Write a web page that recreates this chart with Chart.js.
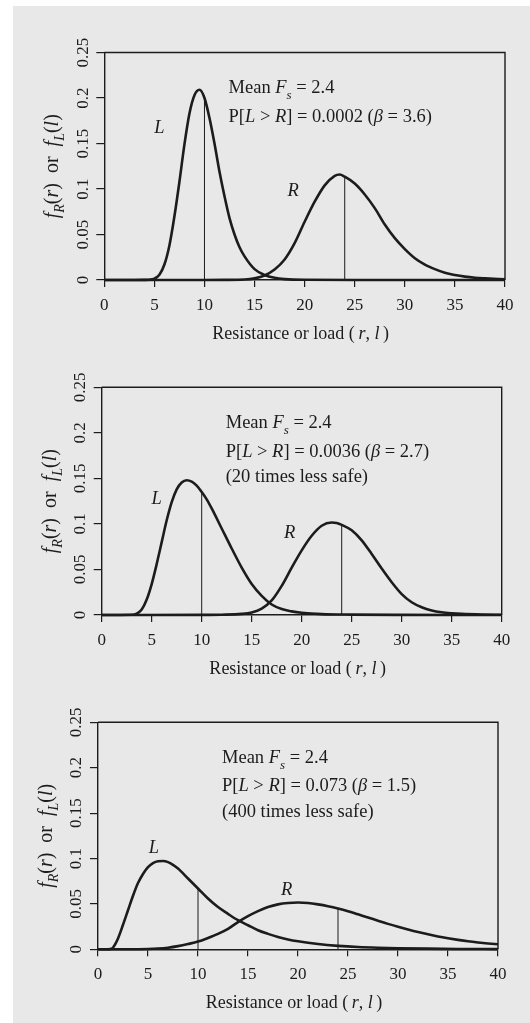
<!DOCTYPE html>
<html><head><meta charset="utf-8">
<script src="https://cdn.jsdelivr.net/npm/chart.js@4.4.1/dist/chart.umd.min.js"></script>
<style>
html,body{margin:0;padding:0;background:#fff;}
#page{position:relative;width:530px;height:1023px;background:#fff;overflow:hidden;}
#panel{position:absolute;left:13px;top:6px;right:0;bottom:0;background:#e8e8e8;}
canvas{position:absolute;left:0;}
</style></head><body>
<div id="page"><div id="panel"></div>
<canvas id="c1" width="530" height="348" style="top:0px"></canvas>
<canvas id="c2" width="530" height="345" style="top:340px"></canvas>
<canvas id="c3" width="530" height="343" style="top:680px"></canvas>
</div>
<script>
// ---------- data ----------
const xTickValues = [0, 5, 10, 15, 20, 25, 30, 35, 40];
const xTickLabels = ['0', '5', '10', '15', '20', '25', '30', '35', '40'];
const yTickValues = [0, 0.05, 0.1, 0.15, 0.2, 0.25];
const yTickLabels = ['0', '0.05', '0.1', '0.15', '0.2', '0.25'];

const meanLoad = 10;
const meanResistance = 24;
const meanFs = '2.4';
const probFailure = ['0.0002', '0.0036', '0.073'];
const betaValues = ['3.6', '2.7', '1.5'];
const safetyNotes = ['', '(20 times less safe)', '(400 times less safe)'];

const load1X = [0,3,4,4.5,5,5.5,6,6.5,7,7.5,8,8.5,9,9.5,10,10.5,11,11.5,12,12.5,13,13.5,14,15,16,17,18,20,25,40];
const load1Y = [0,0,0.0001,0.0003,0.0015,0.0058,0.017,0.038,0.070,0.108,0.149,0.183,0.203,0.209,0.200,0.178,0.150,0.119,0.092,0.068,0.050,0.036,0.026,0.012,0.0055,0.0024,0.001,0.0002,0,0];
const res1X = [0,10,12,14,15,16,17,18,19,20,21,22,23,23.5,24,25,26,27,28,29,30,31,32,33,34,35,36,37,38,40];
const res1Y = [0,0,0.0001,0.0005,0.0018,0.005,0.0115,0.0225,0.0405,0.064,0.086,0.104,0.1145,0.116,0.1135,0.106,0.094,0.079,0.061,0.046,0.034,0.024,0.017,0.012,0.008,0.0055,0.0037,0.0025,0.0018,0.0008];

const load2X = [0,3,3.5,4,4.5,5,5.5,6,6.5,7,7.5,8,8.5,9,9.5,10,10.5,11,12,13,14,15,16,17,18,19,20,22,25,30,40];
const load2Y = [0,0.0003,0.0015,0.006,0.017,0.034,0.056,0.080,0.104,0.124,0.138,0.1455,0.148,0.1465,0.142,0.135,0.127,0.117,0.095,0.073,0.052,0.034,0.021,0.0115,0.0065,0.004,0.0025,0.001,0.0004,0.0001,0];
const res2X = [0,10,12,14,15,16,17,18,19,20,21,22,23,23.5,24,25,26,27,28,29,30,31,32,33,34,35,36,38,40];
const res2Y = [0,0.0001,0.0003,0.0012,0.0028,0.007,0.016,0.032,0.052,0.071,0.087,0.098,0.1015,0.101,0.099,0.093,0.082,0.067,0.051,0.036,0.023,0.014,0.0085,0.005,0.003,0.0019,0.0012,0.0005,0.0002];

const load3X = [0,1,1.2,1.5,2,2.5,3,3.5,4,4.5,5,5.5,6,6.5,7,7.5,8,9,10,11,12,13,14,15,16,17,18,19,20,22,24,26,28,30,33,36,40];
const load3Y = [0,0,0.0002,0.002,0.012,0.027,0.043,0.059,0.073,0.083,0.0905,0.095,0.097,0.0972,0.096,0.093,0.089,0.078,0.067,0.056,0.0465,0.039,0.032,0.0265,0.021,0.017,0.0135,0.0108,0.0088,0.0058,0.0038,0.0025,0.0017,0.0012,0.0007,0.0004,0.0002];
const res3X = [0,3,5,6,7,8,9,10,11,12,13,14,15,16,17,18,19,20,21,22,23,24,25,26,27,28,29,30,31,32,33,34,35,36,37,38,39,40];
const res3Y = [0,0,0.0003,0.0008,0.0018,0.0035,0.0058,0.0085,0.0125,0.017,0.0225,0.030,0.0365,0.042,0.0465,0.0495,0.051,0.0515,0.051,0.0495,0.0475,0.045,0.042,0.0385,0.035,0.0315,0.028,0.0248,0.0218,0.019,0.0165,0.0142,0.0122,0.0104,0.0088,0.0075,0.0064,0.0055];

// ---------- drawing helpers ----------
const FONT = '"Liberation Serif", "Times New Roman", serif';
const INK = '#1c1c1c';

function drawRich(ctx, segs, x, y, size, align) {
  let w = 0;
  const parts = segs.map(s => {
    const fs = s.sub ? size * 0.7 : size;
    const font = (s.it ? 'italic ' : '') + fs + 'px ' + FONT;
    ctx.font = font;
    const mw = ctx.measureText(s.t).width;
    w += mw;
    return { t: s.t, font, mw, dy: s.sub ? size * 0.3 : 0 };
  });
  let cx = align === 'center' ? x - w / 2 : x;
  ctx.textAlign = 'left';
  ctx.textBaseline = 'alphabetic';
  for (const p of parts) {
    ctx.font = p.font;
    ctx.fillText(p.t, cx, y + p.dy);
    cx += p.mw;
  }
}

const yTitleSegs = [
  {t:'f', it:1}, {t:'R', it:1, sub:1}, {t:'('}, {t:'r', it:1}, {t:')  or  '},
  {t:'f', it:1}, {t:'L', it:1, sub:1}, {t:'('}, {t:'l', it:1}, {t:')'}
];
const xTitleSegs = [
  {t:'Resistance or load (\u2009'}, {t:'r', it:1}, {t:', '}, {t:'l', it:1}, {t:'\u2009)'}
];
function meanSegs() {
  return [{t:'Mean '}, {t:'F', it:1}, {t:'s', it:1, sub:1}, {t:' = ' + meanFs}];
}
function probSegs(i) {
  return [{t:'P['}, {t:'L', it:1}, {t:' > '}, {t:'R', it:1}, {t:'] = ' + probFailure[i] + ' ('},
          {t:'\u03B2', it:1}, {t:' = ' + betaValues[i] + ')'}];
}

const decor = {
  id: 'decor',
  afterDatasetsDraw(chart, args, opts) {
    const { ctx, chartArea: a, scales: { x, y } } = chart;
    ctx.save();
    ctx.strokeStyle = INK;
    ctx.lineWidth = 1.4;
    ctx.beginPath();
    ctx.moveTo(a.left, a.top);
    ctx.lineTo(a.right, a.top);
    ctx.lineTo(a.right, a.bottom);
    ctx.stroke();
    ctx.fillStyle = INK;
    // rotated y tick labels
    ctx.font = '17px ' + FONT;
    yTickValues.forEach((v, i) => {
      const py = y.getPixelForValue(v);
      ctx.save();
      ctx.translate(a.left - 21, py);
      ctx.rotate(-Math.PI / 2);
      ctx.textAlign = 'center';
      ctx.textBaseline = 'middle';
      ctx.fillText(yTickLabels[i], 0, 0);
      ctx.restore();
    });
    // y title
    ctx.save();
    ctx.translate(a.left - 52, (a.top + a.bottom) / 2);
    ctx.rotate(-Math.PI / 2);
    drawRich(ctx, yTitleSegs, 0, 6, 20, 'center');
    ctx.restore();
    // x title
    drawRich(ctx, xTitleSegs, (a.left + a.right) / 2 - 4, a.bottom + 58.5, 18, 'center');
    // annotation lines
    opts.lines.forEach(l => {
      drawRich(ctx, l.segs, x.getPixelForValue(l.x), y.getPixelForValue(l.y), 18.5, 'left');
    });
    opts.labels.forEach(l => {
      drawRich(ctx, [{t:l.t, it:1}], x.getPixelForValue(l.x), y.getPixelForValue(l.y), 18.5, 'center');
    });
    ctx.restore();
  }
};

function pts(xs, ys) { return xs.map((v, i) => ({ x: v, y: ys[i] })); }
function valueAt(xs, ys, xv) { return ys[xs.indexOf(xv)]; }

function build(id, pad, lx, ly, rx, ry, lines, labels) {
  const curve = { borderColor: INK, borderWidth: 2.6, pointRadius: 0, fill: false,
                  cubicInterpolationMode: 'monotone', clip: false };
  const thin = { borderColor: INK, borderWidth: 1, pointRadius: 0, fill: false, tension: 0, clip: false };
  new Chart(document.getElementById(id), {
    type: 'line',
    data: {
      datasets: [
        Object.assign({ label: 'L', data: pts(lx, ly) }, curve),
        Object.assign({ label: 'R', data: pts(rx, ry) }, curve),
        Object.assign({ label: 'mean L', data: [{x: meanLoad, y: 0}, {x: meanLoad, y: valueAt(lx, ly, meanLoad)}] }, thin),
        Object.assign({ label: 'mean R', data: [{x: meanResistance, y: 0}, {x: meanResistance, y: valueAt(rx, ry, meanResistance)}] }, thin)
      ]
    },
    options: {
      responsive: false,
      animation: false,
      events: [],
      layout: { padding: pad },
      plugins: { legend: { display: false }, tooltip: { enabled: false }, decor: { lines, labels } },
      scales: {
        x: {
          type: 'linear', min: 0, max: 40,
          afterBuildTicks: s => { s.ticks = xTickValues.map(v => ({ value: v })); },
          ticks: { callback: (v) => xTickLabels[xTickValues.indexOf(v)], font: { family: FONT, size: 17 },
                   color: INK, padding: 8, maxRotation: 0, autoSkip: false },
          grid: { drawOnChartArea: false, drawTicks: true, tickLength: 7, color: INK, lineWidth: 1.2 },
          border: { display: true, color: INK, width: 1.4 },
          afterFit: s => { s.height = 50; s.paddingLeft = 0; s.paddingRight = 0; }
        },
        y: {
          type: 'linear', min: 0, max: 0.25,
          afterBuildTicks: s => { s.ticks = yTickValues.map(v => ({ value: v })); },
          ticks: { display: false },
          grid: { drawOnChartArea: false, drawTicks: true, tickLength: 8, color: INK, lineWidth: 1.2 },
          border: { display: true, color: INK, width: 1.4 },
          afterFit: s => { s.width = 60; s.paddingTop = 0; s.paddingBottom = 0; }
        }
      }
    },
    plugins: [decor]
  });
}

build('c1', { left: 44.3, right: 25, top: 52.5, bottom: 18 }, load1X, load1Y, res1X, res1Y,
  [ { x: 12.4, y: 0.205, segs: meanSegs() }, { x: 12.4, y: 0.174, segs: probSegs(0) } ],
  [ { t: 'L', x: 5.5, y: 0.162 }, { t: 'R', x: 18.85, y: 0.092 } ]);

build('c2', { left: 41.7, right: 28.3, top: 47.3, bottom: 20 }, load2X, load2Y, res2X, res2Y,
  [ { x: 12.4, y: 0.205, segs: meanSegs() }, { x: 12.4, y: 0.174, segs: probSegs(1) },
    { x: 12.4, y: 0.1455, segs: [{ t: safetyNotes[1] }] } ],
  [ { t: 'L', x: 5.5, y: 0.122 }, { t: 'R', x: 18.8, y: 0.084 } ]);

build('c3', { left: 38, right: 32, top: 42.3, bottom: 23.7 }, load3X, load3Y, res3X, res3Y,
  [ { x: 12.4, y: 0.205, segs: meanSegs() }, { x: 12.4, y: 0.174, segs: probSegs(2) },
    { x: 12.4, y: 0.1455, segs: [{ t: safetyNotes[2] }] } ],
  [ { t: 'L', x: 5.6, y: 0.106 }, { t: 'R', x: 18.87, y: 0.06 } ]);
</script>
</body></html>
